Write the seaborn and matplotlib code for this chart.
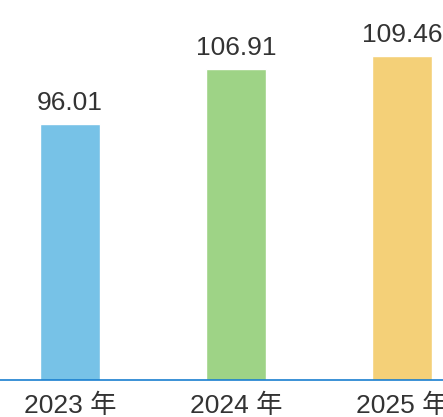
import matplotlib
matplotlib.use("Agg")
import matplotlib.pyplot as plt
import seaborn as sns
import pandas as pd

years = ["2023 年", "2024 年", "2025 年"]
values = [96.01, 106.91, 109.46]
colors = ["#77c2e7", "#9ed386", "#f4d078"]

sns.set_style("white")
plt.rcParams["font.family"] = ["Liberation Sans", "Noto Sans CJK SC", "DejaVu Sans"]

df = pd.DataFrame({"year": years, "value": values})

fig = plt.figure(figsize=(4.43, 4.17), dpi=100)
ax = fig.add_axes([0, 37 / 417, 1, 380 / 417])

sns.barplot(data=df, x="year", y="value", hue="year", palette=colors,
            width=0.361, legend=False, saturation=1, ax=ax)

for c in ax.containers:
    ax.bar_label(c, fmt="%.2f", padding=6.5, fontsize=19, color="#333333")

ax.set_xlim(-70 / 166, (443 - 70) / 166)
ax.set_ylim(44.9, 44.9 + 380 / 5.014)
ax.set_xlabel("")
ax.set_ylabel("")
ax.set_yticks([])
ax.tick_params(axis="x", length=0, pad=10, labelsize=19, labelcolor="#333333")

for side in ["top", "right", "left"]:
    ax.spines[side].set_visible(False)
ax.spines["bottom"].set_color("#1a7fd0")
ax.spines["bottom"].set_linewidth(1.2)

fig.savefig("out.png", dpi=100)
